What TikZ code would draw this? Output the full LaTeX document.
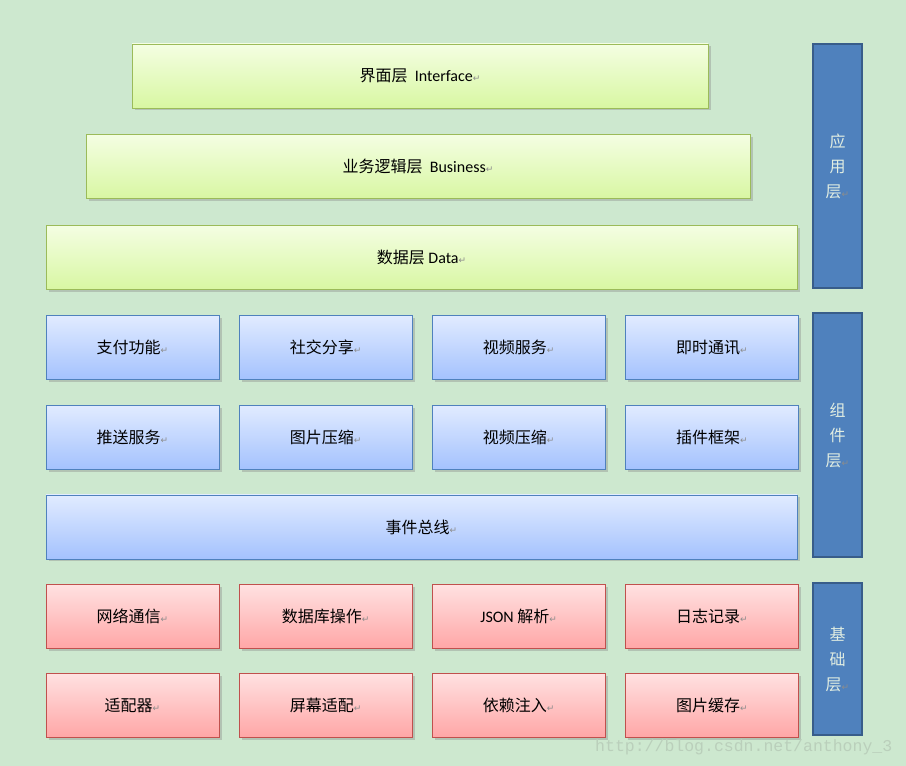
\documentclass[tikz,border=0pt]{standalone}
\usepackage{fontspec}
\setmainfont{Carlito}
\newfontfamily\cjk{Noto Sans CJK SC}
\newfontfamily\symfont{DejaVu Sans}
\newfontfamily\webfont{Liberation Mono}
\usepackage{tikz}
\usetikzlibrary{positioning,shadows}
\definecolor{Back}{HTML}{CDE8CF}
\definecolor{GreenTop}{HTML}{F4FEE2}
\definecolor{GreenBot}{HTML}{D8F7A2}
\definecolor{GreenLine}{HTML}{9BBB59}
\definecolor{BlueTop}{HTML}{E1EBFF}
\definecolor{BlueBot}{HTML}{A4C2FE}
\definecolor{BlueLine}{HTML}{4F81BD}
\definecolor{RedTop}{HTML}{FFE1E1}
\definecolor{RedBot}{HTML}{FFA6A6}
\definecolor{RedLine}{HTML}{C0504D}
\definecolor{Bar}{HTML}{4F81BD}
\definecolor{BarLine}{HTML}{385D8A}
\definecolor{BarText}{HTML}{E2EEE2}
\definecolor{Mark}{HTML}{8C8C8C}
\definecolor{Stamp}{HTML}{BACFBB}
\newcommand{\ret}{{\symfont\fontsize{9}{9}\selectfont\textcolor{Mark}{↵}}}

\begin{document}
\begin{tikzpicture}[
  x=1pt, y=1pt,
  node distance=25pt,
  box/.style={draw, line width=0.8pt, minimum height=64pt, inner sep=0pt, font=\fontsize{16}{19}\selectfont, drop shadow={opacity=0.35, shadow xshift=2.5pt, shadow yshift=-2.5pt}},
  app/.style={box, draw=GreenLine, top color=GreenTop, bottom color=GreenBot},
  comp/.style={box, draw=BlueLine, top color=BlueTop, bottom color=BlueBot, minimum width=173pt},
  base/.style={box, draw=RedLine, top color=RedTop, bottom color=RedBot, minimum width=173pt},
  layer/.style={draw=BarLine, line width=2.5pt, fill=Bar, minimum width=49pt, text=BarText, align=center, font=\cjk\fontsize{16}{25}\selectfont}
]
\fill[Back] (0,0) rectangle (906,766);
% application layer
\node[app, minimum width=576pt] (iface) at (420,690) {{\cjk 界面层}\ \ Interface\ret};
\node[app, minimum width=664pt, below=26pt of iface, xshift=-2pt] (biz) {{\cjk 业务逻辑层}\ \ Business\ret};
\node[app, minimum width=751pt, below=26pt of biz, xshift=3.5pt] (data) {{\cjk 数据层} Data\ret};
% component layer
\node[comp, below=of data.south west, anchor=north west] (pay) {{\cjk 支付功能}\ret};
\node[comp, right=19.3pt of pay] (share) {{\cjk 社交分享}\ret};
\node[comp, right=19.3pt of share] (video) {{\cjk 视频服务}\ret};
\node[comp, right=19.3pt of video] (im) {{\cjk 即时通讯}\ret};
\node[comp, below=of pay] (push) {{\cjk 推送服务}\ret};
\node[comp, below=of share] (imgzip) {{\cjk 图片压缩}\ret};
\node[comp, below=of video] (videozip) {{\cjk 视频压缩}\ret};
\node[comp, below=of im] (plugin) {{\cjk 插件框架}\ret};
\node[comp, minimum width=751pt, below=of push.south west, anchor=north west] (bus) {{\cjk 事件总线}\ret};
% base layer
\node[base, below=of bus.south west, anchor=north west] (net) {{\cjk 网络通信}\ret};
\node[base, right=19.3pt of net] (db) {{\cjk 数据库操作}\ret};
\node[base, right=19.3pt of db] (json) {JSON {\cjk 解析}\ret};
\node[base, right=19.3pt of json] (log) {{\cjk 日志记录}\ret};
\node[base, below=24pt of net] (adapter) {{\cjk 适配器}\ret};
\node[base, below=24pt of db] (screen) {{\cjk 屏幕适配}\ret};
\node[base, below=24pt of json] (inject) {{\cjk 依赖注入}\ret};
\node[base, below=24pt of log] (cache) {{\cjk 图片缓存}\ret};
% side bars
\node[layer, minimum height=244pt] (applayer) at (837.5,600) {应\\用\\层\ret};
\node[layer, minimum height=244pt] (complayer) at (837.5,331) {组\\件\\层\ret};
\node[layer, minimum height=152pt] (baselayer) at (837.5,107) {基\\础\\层\ret};
\node[anchor=base west, inner sep=0pt, text=Stamp, font=\webfont\fontsize{16.5}{18}\selectfont] (stamp) at (595,14) {http://blog.csdn.net/anthony\_3};
\end{tikzpicture}
\end{document}
